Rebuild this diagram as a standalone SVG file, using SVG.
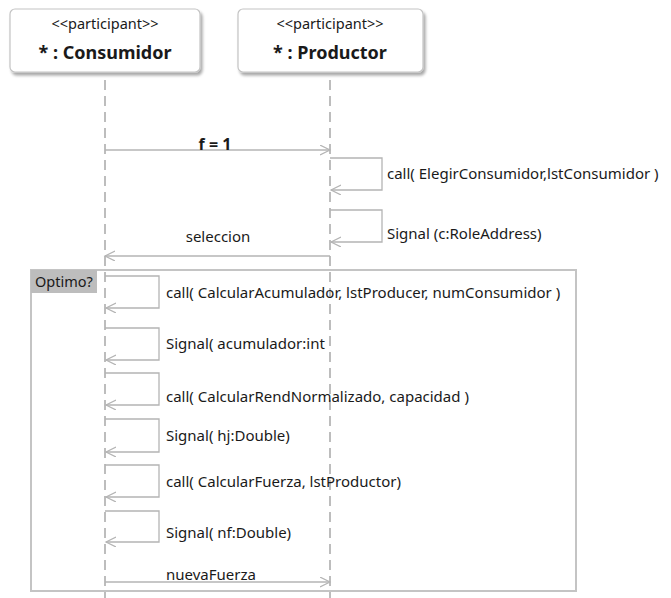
<svg xmlns="http://www.w3.org/2000/svg" width="671" height="598" viewBox="0 0 671 598">
<defs>
<filter id="sh" x="-10%" y="-10%" width="130%" height="140%">
<feGaussianBlur in="SourceAlpha" stdDeviation="1.5"/>
<feOffset dx="2" dy="3" result="b"/>
<feComponentTransfer><feFuncA type="linear" slope="0.35"/></feComponentTransfer>
<feMerge><feMergeNode/><feMergeNode in="SourceGraphic"/></feMerge>
</filter>
<marker id="ah" markerWidth="12" markerHeight="12" refX="10" refY="5" orient="auto" markerUnits="userSpaceOnUse">
<path d="M0,0 L10,5 L0,10" fill="none" stroke="#b4b4b4" stroke-width="1.2"/>
</marker>
</defs>
<style>
text{font-family:"Noto Sans","Liberation Sans",sans-serif;fill:#1a1a1a}
.lbl{font-size:15px}
.box{fill:#fff;stroke:#c4c4c4;stroke-width:1.2}
.life{stroke:#bdbdbd;stroke-width:2;stroke-dasharray:10 6;fill:none}
.msg{stroke:#b4b4b4;stroke-width:1.3;fill:none;marker-end:url(#ah)}
.st{font-size:14.5px}
.nm{font-size:18px;font-weight:bold}
</style>
<rect width="671" height="598" fill="#fff"/>
<g id="consumidor">
<rect class="box" x="10" y="9" width="190" height="63" rx="5" filter="url(#sh)"/>
<text class="st" x="105" y="29" text-anchor="middle">&lt;&lt;participant&gt;&gt;</text>
<text class="nm" x="105" y="59" text-anchor="middle">* : Consumidor</text>
</g>
<g id="productor">
<rect class="box" x="238" y="9" width="185" height="63" rx="5" filter="url(#sh)"/>
<text class="st" x="330" y="29" text-anchor="middle">&lt;&lt;participant&gt;&gt;</text>
<text class="nm" x="330" y="59" text-anchor="middle">* : Productor</text>
</g>
<g id="lifelines">
<line class="life" x1="105" y1="80" x2="105" y2="598"/>
<line class="life" x1="330" y1="80" x2="330" y2="598"/>
</g>
<g id="fragment">
<rect x="31" y="270" width="545" height="321" fill="none" stroke="#c4c4c4" stroke-width="2"/>
<rect x="31" y="270" width="66" height="23" fill="#bdbdbd"/>
<text x="35" y="287" font-size="14.5">Optimo?</text>
</g>
<g id="connectors">
<line class="msg" x1="105" y1="150" x2="330" y2="150"/>
<text x="215" y="150" text-anchor="middle" font-weight="bold" font-size="16">f = 1</text>
<path class="msg" d="M330,158 H382 V190 H331"/>
<text class="lbl" x="387" y="179">call( ElegirConsumidor,lstConsumidor )</text>
<path class="msg" d="M330,210 H382 V242 H331"/>
<text class="lbl" x="387" y="239">Signal (c:RoleAddress)</text>
<line class="msg" x1="330" y1="256" x2="105" y2="256"/>
<text class="lbl" x="218" y="242" text-anchor="middle">seleccion</text>
<path class="msg" d="M105,276 H159 V308 H106"/>
<text class="lbl" x="166" y="298">call( CalcularAcumulador, lstProducer, numConsumidor )</text>
<path class="msg" d="M105,328 H159 V360 H106"/>
<text class="lbl" x="166" y="349">Signal( acumulador:int</text>
<path class="msg" d="M105,373 H159 V405 H106"/>
<text class="lbl" x="166" y="402">call( CalcularRendNormalizado, capacidad )</text>
<path class="msg" d="M105,419 H159 V452 H106"/>
<text class="lbl" x="166" y="441">Signal( hj:Double)</text>
<path class="msg" d="M105,465 H159 V497 H106"/>
<text class="lbl" x="166" y="487">call( CalcularFuerza, lstProductor)</text>
<path class="msg" d="M105,511 H159 V542 H106"/>
<text class="lbl" x="166" y="538">Signal( nf:Double)</text>
<line class="msg" x1="105" y1="582" x2="330" y2="582"/>
<text class="lbl" x="166" y="580">nuevaFuerza</text>
</g>
</svg>
